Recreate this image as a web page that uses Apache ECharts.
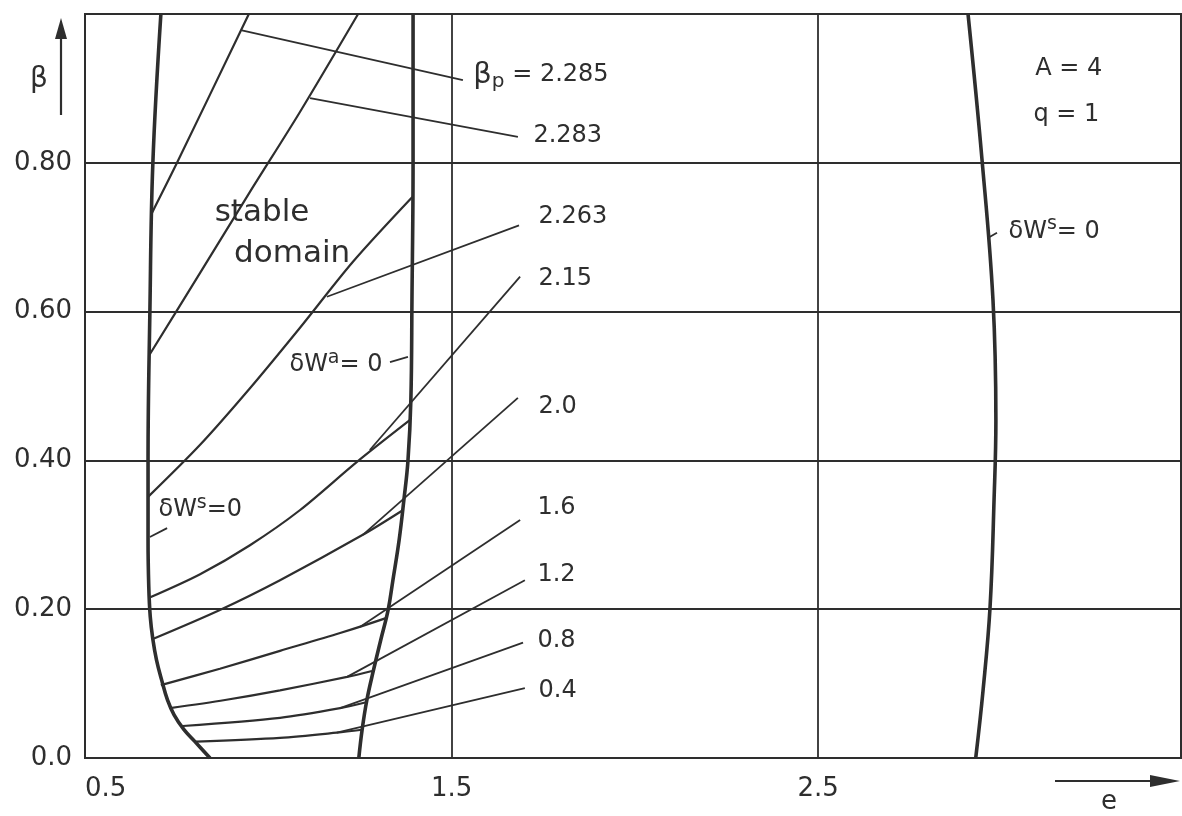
<!DOCTYPE html>
<html><head><meta charset="utf-8">
<script src="https://cdn.jsdelivr.net/npm/echarts@6/dist/echarts.min.js"></script>
<style>html,body{margin:0;background:#fff}#c{width:1182px;height:816px}</style>
</head><body><div id="c"></div>
<script>
// ---- data (e, beta) ----
const leftStabilityBoundary = [[0.707,1.0],[0.685,0.798],[0.677,0.599],[0.672,0.401],[0.672,0.293],[0.674,0.230],[0.678,0.190],[0.685,0.160],[0.695,0.132],[0.709,0.105],[0.725,0.078],[0.743,0.058],[0.770,0.038],[0.800,0.022],[0.841,0.0]];
const antisymBoundary = [[1.395,1.0],[1.395,0.800],[1.392,0.616],[1.389,0.481],[1.381,0.399],[1.370,0.347],[1.357,0.293],[1.340,0.239],[1.327,0.199],[1.307,0.159],[1.287,0.118],[1.269,0.078],[1.256,0.038],[1.247,0.0]];
const rightStabilityBoundary = [[2.909,1.0],[2.947,0.805],[2.977,0.616],[2.985,0.454],[2.980,0.347],[2.969,0.202],[2.950,0.091],[2.930,0.0]];

const betaPValues = ['0.4','0.8','1.2','1.6','2.0','2.15','2.263','2.283','2.285'];
const curve04  = [[0.803,0.022],[1.032,0.027],[1.187,0.034],[1.256,0.038]];
const curve08  = [[0.767,0.043],[1.032,0.054],[1.196,0.067],[1.267,0.075]];
const curve12  = [[0.732,0.067],[0.882,0.078],[1.032,0.091],[1.215,0.109],[1.283,0.117]];
const curve16  = [[0.707,0.098],[0.868,0.120],[1.032,0.144],[1.196,0.168],[1.321,0.188]];
const curve20  = [[0.685,0.160],[0.868,0.199],[1.032,0.239],[1.258,0.300],[1.367,0.333]];
const curve215 = [[0.678,0.216],[0.814,0.247],[0.950,0.286],[1.086,0.333],[1.242,0.398],[1.386,0.454]];
const curve2263= [[0.672,0.351],[0.814,0.421],[0.950,0.497],[1.086,0.578],[1.231,0.667],[1.393,0.754]];
const curve2283= [[0.676,0.542],[0.814,0.652],[0.950,0.761],[1.086,0.868],[1.245,1.0]];
const curve2285= [[0.683,0.733],[0.751,0.800],[0.947,1.0]];
const familyCurves = [curve04,curve08,curve12,curve16,curve20,curve215,curve2263,curve2283,curve2285];

const familyLeaders = [
  [[1.187,0.034],[1.700,0.094]],
  [[1.196,0.067],[1.695,0.155]],
  [[1.215,0.109],[1.700,0.239]],
  [[1.250,0.176],[1.687,0.320]],
  [[1.258,0.300],[1.681,0.484]],
  [[1.277,0.414],[1.687,0.647]],
  [[1.160,0.620],[1.684,0.716]],
  [[1.114,0.887],[1.681,0.835]],
  [[0.928,0.978],[1.531,0.911]]
];
const familyLabelAt = [[1.736,0.091],[1.733,0.157],[1.733,0.246],[1.733,0.337],[1.736,0.472],[1.736,0.644],[1.736,0.727],[1.722,0.837],[1.558,0.918]];

const boundaryLeaders = [
  [[0.677,0.297],[0.724,0.309]],
  [[1.332,0.532],[1.381,0.539]],
  [[2.963,0.699],[2.988,0.706]]
];
const noteTexts = ['δWs=0 (left)','δWa=0','δWs=0 (right)','A = 4','q = 1','stable','domain'];
const noteAt = [[0.699,0.333],[1.313,0.528],[3.018,0.707],[3.091,0.927],[3.086,0.864],[0.983,0.733],[1.065,0.677]];

const xTicks = [0.5,1.5,2.5];
const yTicks = [0,0.2,0.4,0.6,0.8];

// ---- styles ----
const INK = '#2e2e2e';
const FONT = 'DejaVu Sans';
const rich = {
  t:{fontFamily:FONT,fontSize:24,color:INK,lineHeight:34},
  b:{fontFamily:FONT,fontSize:29,color:INK,lineHeight:34},
  s:{fontFamily:FONT,fontSize:20,color:INK,lineHeight:16,verticalAlign:'bottom'},
  sup:{fontFamily:FONT,fontSize:19,color:INK,lineHeight:18,verticalAlign:'top'},
  big:{fontFamily:FONT,fontSize:31,color:INK,lineHeight:36}
};
const noteFormat = {
  'δWs=0 (left)':'{t|δW}{sup|s}{t|=0}',
  'δWa=0':'{t|δW}{sup|a}{t|= 0}',
  'δWs=0 (right)':'{t|δW}{sup|s}{t|= 0}',
  'A = 4':'{t|A = 4}',
  'q = 1':'{t|q = 1}',
  'stable':'{big|stable}',
  'domain':'{big|domain}'
};
const notePos = ['right','left','right','right','right','inside','inside'];

const series = [];
const lineBase = (data, w, z, sm) => ({type:'line', data, symbol:'none', smooth:sm, silent:true, z,
  lineStyle:{color:INK, width:w}, animation:false});

series.push(Object.assign(lineBase(leftStabilityBoundary,3.6,5,0.4),{name:'δWs=0 left'}));
series.push(Object.assign(lineBase(antisymBoundary,3.6,5,0.4),{name:'δWa=0'}));
series.push(Object.assign(lineBase(rightStabilityBoundary,3.6,5,0.4),{name:'δWs=0 right'}));
familyCurves.forEach((c,i)=>series.push(Object.assign(lineBase(c,2.2,4,0.3),{name:'βp='+betaPValues[i]})));
familyLeaders.forEach((c,i)=>series.push(Object.assign(lineBase(c,1.8,4,false),{name:'leader '+betaPValues[i]})));
boundaryLeaders.forEach((c,i)=>series.push(Object.assign(lineBase(c,1.8,4,false),{name:'bleader'+i})));

const labelItem = {color:'transparent', opacity:1};
series.push({
  type:'scatter', name:'βp labels', symbolSize:1, itemStyle:labelItem, silent:true, z:6,
  data: familyLabelAt.map((p,i)=>({value:p, label:{
    show:true, position:'right', distance:0, color:INK, opacity:1,
    formatter: i===8 ? '{b|β}{s|p}{t| = '+betaPValues[i]+'}' : '{t|'+betaPValues[i]+'}',
    rich}}))
});
series.push({
  type:'scatter', name:'notes', symbolSize:1, itemStyle:labelItem, silent:true, z:6,
  data: noteAt.map((p,i)=>({value:p, label:{
    show:true, position:notePos[i], distance:0, color:INK, opacity:1, formatter: noteFormat[noteTexts[i]], rich}}))
});

const chart = echarts.init(document.getElementById('c'), null, {renderer:'canvas'});
chart.setOption({
  animation:false,
  backgroundColor:'#fff',
  grid:{left:85, right:1, top:14, bottom:58, show:true, borderColor:INK, borderWidth:2, backgroundColor:'transparent'},
  xAxis:{type:'value', min:0.5, max:3.49, interval:1,
    axisLine:{show:false}, axisTick:{show:false},
    splitLine:{show:true, lineStyle:{color:INK, width:1.8}},
    axisLabel:{color:INK, fontFamily:FONT, fontSize:26, margin:18, alignMinLabel:'left',
      showMaxLabel:false,
      formatter:v=> xTicks.some(t=>Math.abs(t-v)<1e-6) ? v.toFixed(1) : ''}},
  yAxis:{type:'value', min:0, max:1.0, interval:0.2,
    axisLine:{show:false}, axisTick:{show:false},
    splitLine:{show:true, lineStyle:{color:INK, width:1.8}},
    axisLabel:{color:INK, fontFamily:FONT, fontSize:26, margin:13,
      formatter:v=> yTicks.some(t=>Math.abs(t-v)<1e-6) ? (v===0 ? '0.0' : v.toFixed(2)) : ''}},
  graphic:[
    {type:'line', shape:{x1:61,y1:115,x2:61,y2:34}, style:{stroke:INK, lineWidth:2.2}},
    {type:'polygon', shape:{points:[[61,18],[55,39],[67,39]]}, style:{fill:INK}},
    {type:'text', left:30, top:66, style:{text:'β', fontFamily:FONT, fontSize:28, fill:INK}},
    {type:'line', shape:{x1:1055,y1:781,x2:1160,y2:781}, style:{stroke:INK, lineWidth:2.2}},
    {type:'polygon', shape:{points:[[1180,781],[1150,775],[1150,787]]}, style:{fill:INK}},
    {type:'text', left:1101, top:789, style:{text:'e', fontFamily:FONT, fontSize:26, fill:INK}}
  ],
  series
});
</script>
</body></html>
